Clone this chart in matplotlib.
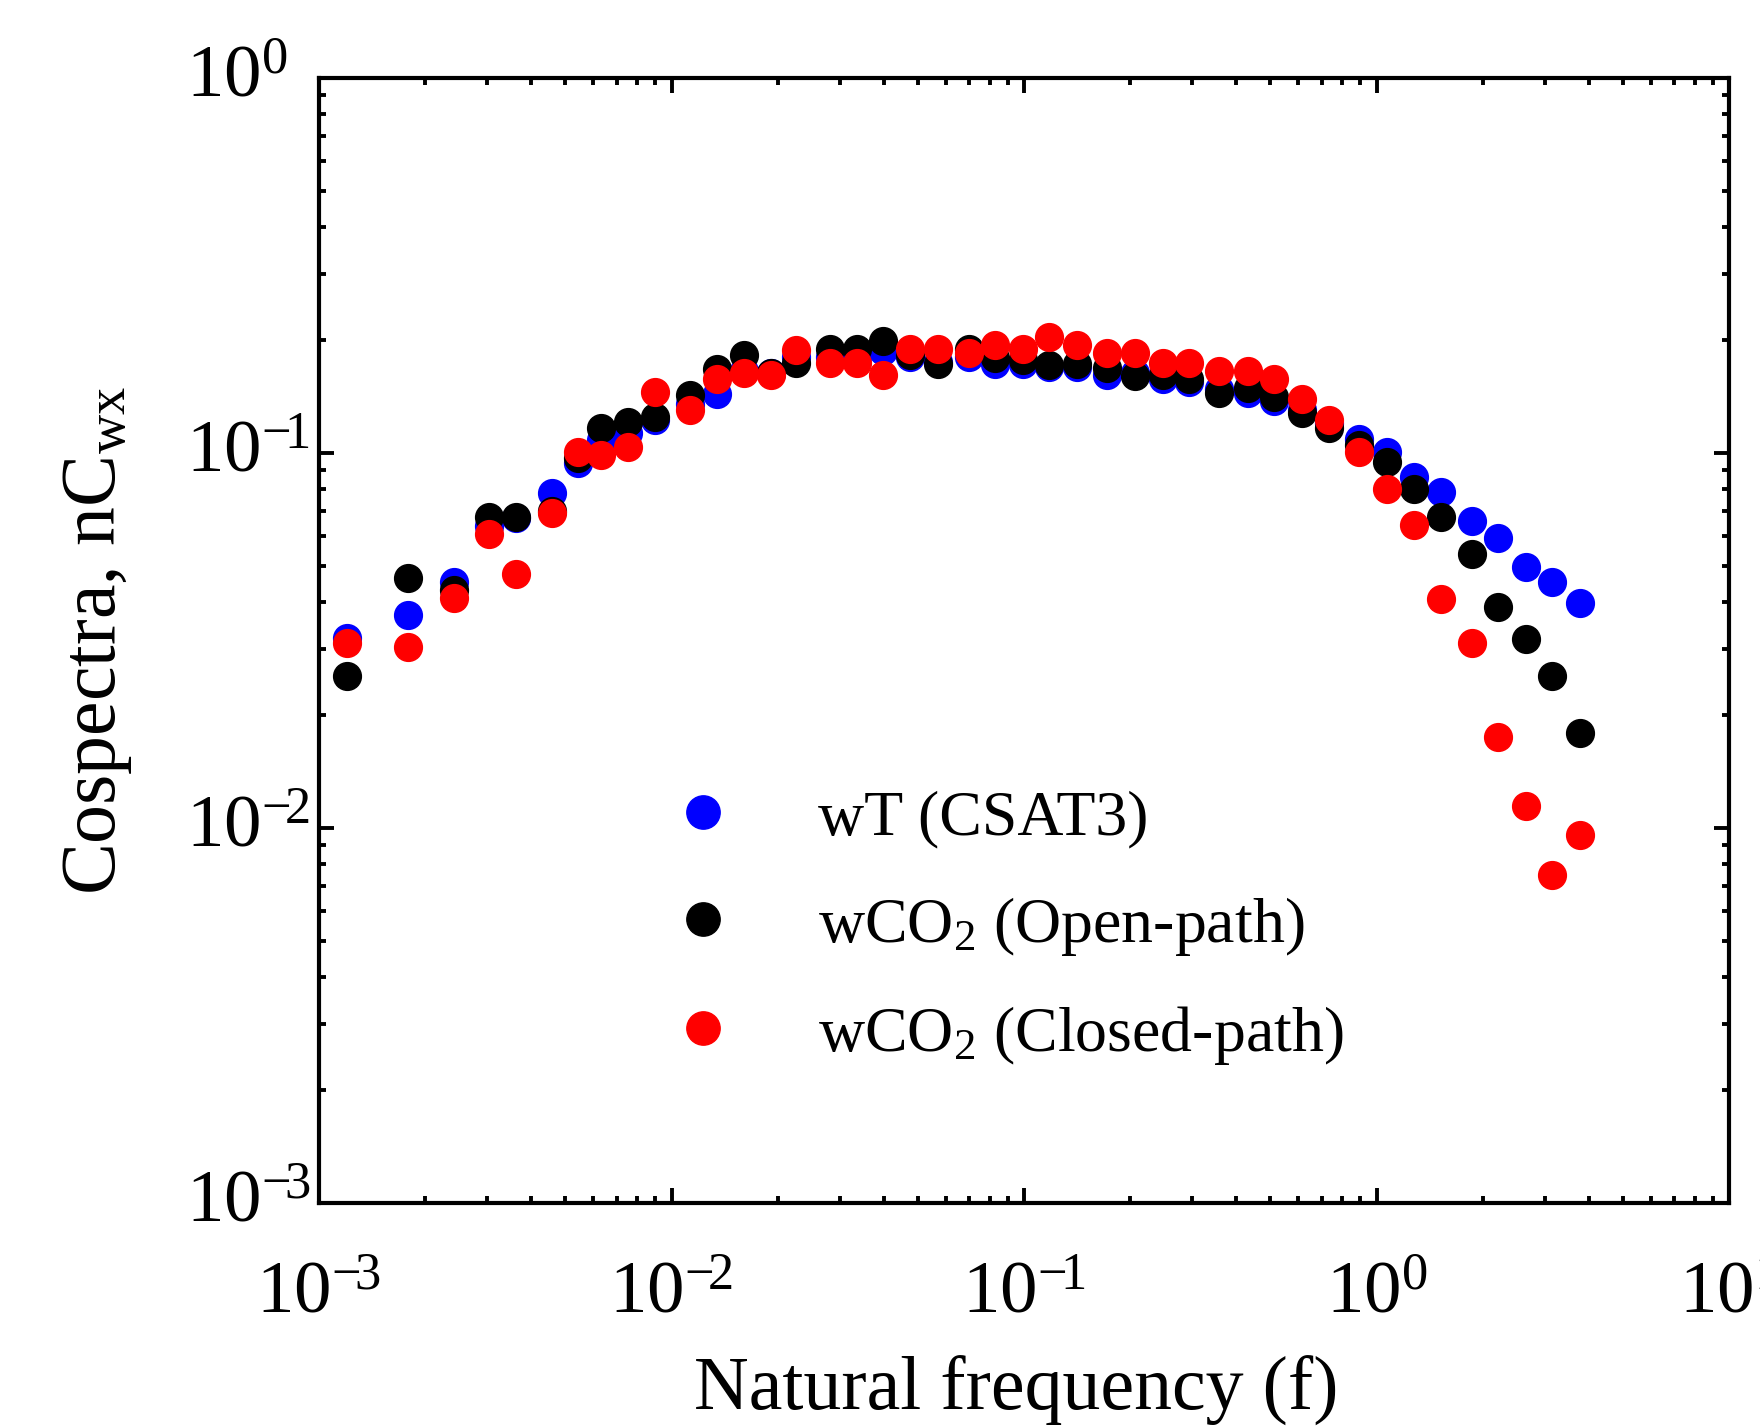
import numpy as np
import matplotlib
matplotlib.use('Agg')
import matplotlib.pyplot as plt
from matplotlib.transforms import ScaledTranslation

# natural frequency (f)
freq = [0.001198, 0.00179, 0.00242, 0.00304, 0.00363, 0.00457, 0.00543, 0.0063,
        0.00753, 0.0090, 0.01131, 0.0135, 0.01606, 0.0192, 0.0226, 0.0281,
        0.0335, 0.0398, 0.0475, 0.0570, 0.0697, 0.0828, 0.0994, 0.118,
        0.1418, 0.1722, 0.2068, 0.2474, 0.2945, 0.358, 0.4308, 0.513,
        0.6146, 0.731, 0.894, 1.069, 1.274, 1.523, 1.86, 2.218,
        2.652, 3.155, 3.773]

# wT (CSAT3)
wT = [0.0321, 0.037, 0.0454, 0.064, 0.067, 0.0781, 0.094, 0.108,
      0.113, 0.1225, 0.135, 0.144, 0.165, 0.163, 0.18, 0.18,
      0.18, 0.1874, 0.18, 0.175, 0.18, 0.173, 0.173, 0.1696,
      0.170, 0.161, 0.163, 0.158, 0.155, 0.148, 0.1448, 0.1378,
      0.13, 0.12, 0.1088, 0.1008, 0.0864, 0.0788, 0.0658, 0.0594,
      0.0498, 0.0452, 0.0399]

# wCO2 open-path
wco2_open = [0.0254, 0.0464, 0.043, 0.0676, 0.0674, 0.07, 0.097, 0.1164,
             0.1213, 0.125, 0.1428, 0.168, 0.1825, 0.163, 0.1735, 0.1896,
             0.1896, 0.1987, 0.1822, 0.173, 0.1896, 0.1788, 0.177, 0.1716,
             0.1727, 0.1682, 0.1607, 0.1615, 0.1572, 0.1448, 0.1488, 0.1413,
             0.128, 0.1164, 0.105, 0.0945, 0.0802, 0.0674, 0.0539, 0.0388,
             0.0319, 0.0255, 0.01796]

# wCO2 closed-path
wco2_closed = [0.0311, 0.0304, 0.041, 0.061, 0.0475, 0.069, 0.1008, 0.0988,
               0.104, 0.1457, 0.130, 0.158, 0.163, 0.1615, 0.188, 0.1738,
               0.1735, 0.1614, 0.1896, 0.189, 0.1844, 0.194, 0.1896, 0.2041,
               0.194, 0.185, 0.1844, 0.1734, 0.1738, 0.1658, 0.1658, 0.1575,
               0.139, 0.1225, 0.1004, 0.0802, 0.0643, 0.0408, 0.0311, 0.0175,
               0.01145, 0.0075, 0.00958]

labels = ['wT (CSAT3)', 'wCO$_2$ (Open-path)', 'wCO$_2$ (Closed-path)']
colors = ['#0000ff', '#000000', '#ff0000']

plt.rcParams['font.family'] = ['Liberation Serif', 'DejaVu Serif']
plt.rcParams['mathtext.fontset'] = 'custom'
plt.rcParams['mathtext.rm'] = 'Liberation Serif'
plt.rcParams['mathtext.it'] = 'Liberation Serif:italic'
plt.rcParams['mathtext.default'] = 'regular'
plt.rcParams['axes.unicode_minus'] = False

fig = plt.figure(figsize=(8.8, 7.14), dpi=200)
ax = fig.add_axes([319/1760, 1-1203/1428, (1729-319)/1760, (1203-78)/1428])

for y, c, lab in zip([wT, wco2_open, wco2_closed], colors, labels):
    ax.plot(freq, y, ls='none', marker='o', ms=10, color=c, mec=c, mew=0.5, label=lab)

ax.set_xscale('log')
ax.set_yscale('log')
ax.set_xlim(1e-3, 10)
ax.set_ylim(1e-3, 1)

def pow10(v, pos):
    e = int(round(np.log10(v)))
    s = str(e).replace('-', r'-\!')
    return r'$\mathregular{10^{%s}}$' % s

ax.xaxis.set_major_formatter(plt.FuncFormatter(pow10))
ax.yaxis.set_major_formatter(plt.FuncFormatter(pow10))

for s in ax.spines.values():
    s.set_linewidth(1.5)
ax.tick_params(which='both', direction='in', top=True, right=True, width=1.4)
ax.tick_params(which='major', length=5.5, labelsize=27)
ax.tick_params(which='minor', length=2.6)
ax.tick_params(axis='x', which='major', pad=21)
ax.tick_params(axis='y', which='major', pad=48)

# y tick labels: left aligned, nudged up a little
up = ScaledTranslation(0, 2.5/72, fig.dpi_scale_trans)
for lab in ax.get_yticklabels():
    lab.set_horizontalalignment('left')
    lab.set_transform(lab.get_transform() + up)

ax.set_xlabel('Natural frequency (f)', fontsize=27.3)
ax.xaxis.set_label_coords((1016-319)/1410, -0.136)
ax.set_ylabel('Cospectra, nC$_{wx}$', fontsize=28, labelpad=18.5)

ax.legend(loc='upper left', bbox_to_anchor=(0.25, 0.367), frameon=False,
          fontsize=23, markerscale=1.2, handlelength=1.0, handletextpad=1.3,
          labelspacing=0.72, borderpad=0, borderaxespad=0)

fig.savefig('out.png', dpi=200)
